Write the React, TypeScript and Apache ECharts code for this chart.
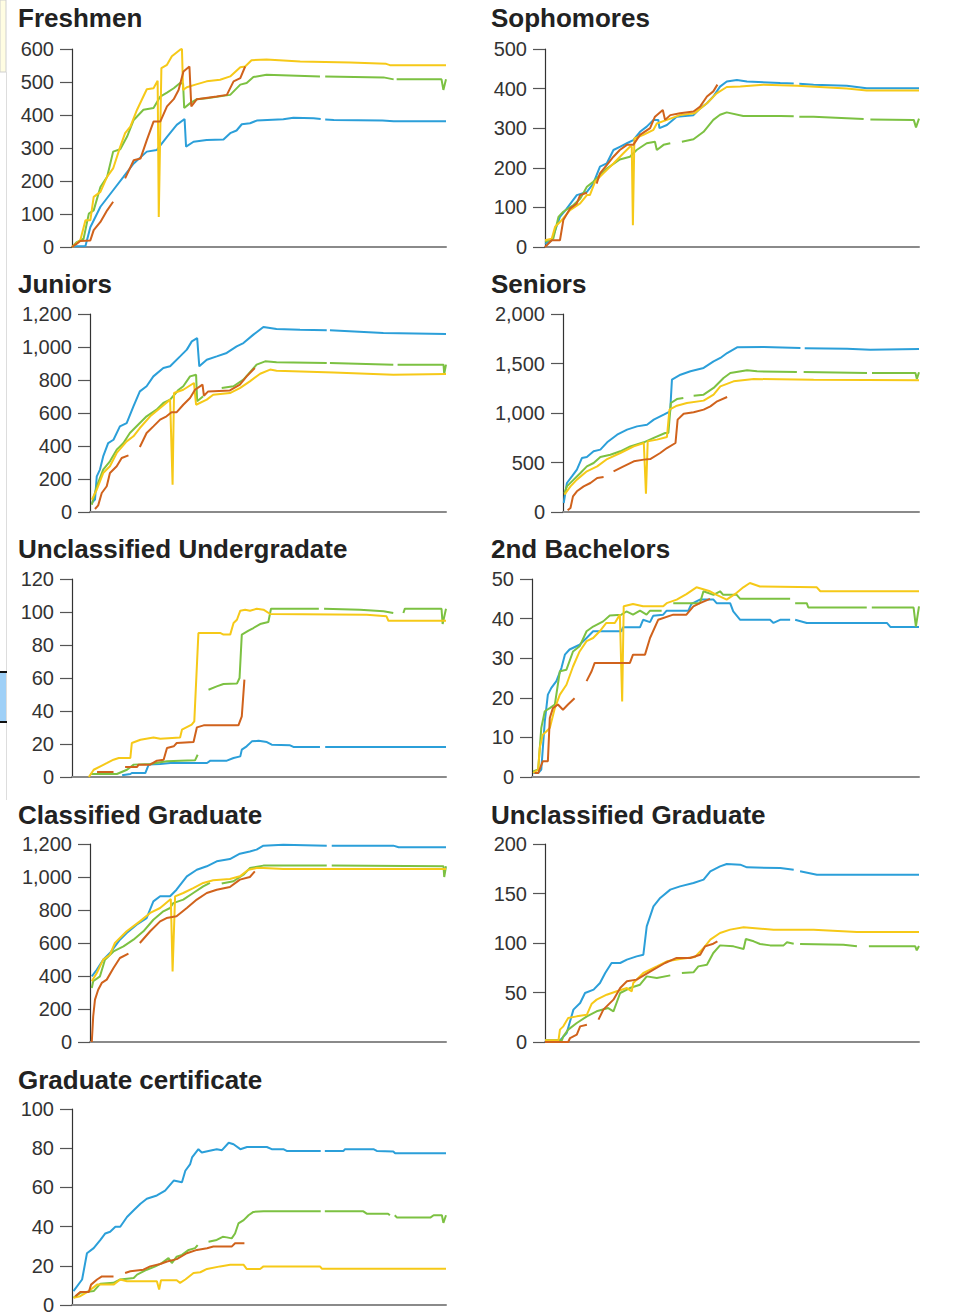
import React, { useEffect, useRef } from "react";
import * as echarts from "echarts";

// ---------- titles & axis ranges ----------
const titles = [
  "Freshmen",
  "Sophomores",
  "Juniors",
  "Seniors",
  "Unclassified Undergradate",
  "2nd Bachelors",
  "Classified Graduate",
  "Unclassified Graduate",
  "Graduate certificate",
];
const yMax = [600, 500, 1200, 2000, 120, 50, 1200, 200, 100];
const yStep = [100, 100, 200, 500, 20, 10, 200, 50, 20];

// ---------- data: [x (0-100 along the period), value] ; null = gap ----------
const FR_blue = [[0,2],[3.6,3],[4.9,60],[7.6,122],[11,172],[13.8,213],[16.5,253],[20,289],[22.7,294],[25.4,334],[28,370],[30.1,388],[30.5,304],[32.5,319],[36,324],[40.5,326],[42.3,345],[44,353],[45.4,372],[47.6,375],[49.4,383],[56.5,387],[59.2,392],[64.6,390],[66.5,388],[67,null],[67.7,386],[70,385],[83,383],[86,381],[100,381]];
const FR_green = [[0,0],[1.3,15],[3.1,25],[4.5,101],[5.8,111],[7.6,182],[9.4,213],[11,289],[12.9,296],[14.7,334],[16.5,385],[19.1,416],[21.8,421],[23.6,456],[25.4,468],[27.2,481],[28.9,497],[29.7,495],[30,421],[31.6,436],[33.4,448],[36,451],[42.3,461],[45,492],[46.7,497],[48.5,515],[52,522],[66.3,517],[67,null],[67.7,517],[83.3,514],[86,508],[86.4,null],[86.8,508],[98.8,508],[99.3,476],[100,508]];
const FR_yellow = [[0,0],[2.2,20],[3.6,81],[4.9,81],[5.8,152],[7.6,167],[9.4,213],[11,238],[12.9,304],[14.2,345],[15.6,365],[17.4,416],[20,478],[21.8,481],[22.9,504],[23.2,91],[23.9,542],[25.4,552],[26.7,578],[28.9,598],[29.4,600],[29.7,476],[30.7,484],[33,492],[36,502],[39.6,507],[42.3,517],[45,545],[46.3,547],[48,566],[52,568],[61,562],[74.4,559],[84,555],[85,551],[100,551]];
const FR_orange = [[0,0],[1.3,10],[2.2,18],[4.9,20],[5.8,51],[7.6,76],[9.4,111],[11,137],[12.5,null],[14.2,208],[16.5,263],[18.3,268],[20,324],[21.8,380],[23.6,380],[25.4,426],[27.2,448],[28.5,476],[29.8,532],[31.4,547],[31.9,426],[33.4,448],[38.7,456],[41.4,461],[43.2,502],[45,512],[46.3,547]];

const SO_blue = [[0,8],[1.8,17],[2.7,42],[4,76],[5.8,97],[8.5,131],[11.2,139],[12.9,160],[14.7,203],[16.5,211],[18.3,245],[20,253],[21.9,262],[23.6,270],[25.4,291],[27.2,304],[29,321],[30.3,321],[30.6,300],[32.6,308],[35.2,329],[39.7,333],[41.5,350],[43.3,363],[45,380],[46.8,405],[48.6,418],[51.3,422],[54,418],[62.9,414],[66.5,413],[67.2,null],[68,412],[71.8,410],[80.7,407],[86,401],[100,401]];
const SO_green = [[0,13],[2.2,21],[3.6,76],[4.9,89],[7.6,106],[9.4,122],[11.2,152],[12.9,165],[16.5,198],[20,221],[22.7,228],[24.5,245],[27.2,262],[29.4,266],[29.9,245],[31.7,258],[33.5,262],[34.5,null],[36.6,266],[39.7,272],[42.4,291],[45,321],[46.8,334],[48.6,340],[53,331],[62.9,331],[66.5,330],[67.2,null],[68,329],[71.8,329],[85.2,323],[86.2,null],[87,322],[98.6,321],[99.2,302],[100,324]];
const SO_yellow = [[0,17],[1.8,21],[2.7,51],[4,63],[6.7,93],[9.4,110],[11.2,131],[12,131],[13.4,165],[15.6,186],[18.3,211],[20.9,236],[22.7,253],[23.2,253],[23.5,55],[23.9,274],[26.3,283],[29,296],[29.9,312],[32.6,321],[36.1,333],[40,338],[43.3,363],[45.9,388],[48.6,404],[52.2,405],[58.4,410],[67.4,407],[80.7,400],[86,395],[100,395]];
const SO_orange = [[0,0],[1.8,17],[4,17],[4.9,68],[6.7,97],[8.5,110],[9.4,131],[11.2,137],[12.5,null],[13.8,160],[14.7,186],[16.5,207],[18.3,228],[20,245],[21.9,258],[23.6,258],[25.4,283],[28.1,300],[29.4,329],[31.5,346],[32.1,321],[33.5,333],[36.1,338],[39.7,342],[41.5,355],[43.3,380],[45,393],[46.1,410]];

const JU_blue = [[0.5,55],[1.4,75],[1.9,216],[2.8,257],[3.7,337],[5.1,418],[6.6,438],[8.4,519],[10.3,539],[12.2,640],[14,731],[15.9,762],[17.8,822],[20.6,873],[22.5,883],[25.3,943],[27.2,984],[28.6,1034],[30.1,1054],[30.7,883],[32.8,923],[35.6,943],[38.4,964],[41.2,1004],[43.1,1024],[45.9,1075],[48.7,1121],[52.4,1109],[59,1105],[66.5,1101],[67,null],[67.4,1101],[82.4,1085],[100,1079]];
const JU_green = [[0.5,44],[1.9,156],[3.7,257],[5.6,307],[7.5,378],[9.4,418],[11.2,479],[14,539],[15.9,580],[18.7,620],[20.6,661],[22.5,681],[24.9,741],[26.2,762],[28.1,822],[29.8,832],[30.1,671],[31.8,701],[34.5,null],[37,751],[40.3,762],[43.1,802],[46.8,893],[49.2,913],[52.4,907],[66.5,903],[67,null],[67.4,903],[85.2,893],[85.8,null],[86.4,893],[99.3,893],[99.5,838],[100,893]];
const JU_yellow = [[0.5,75],[1.9,135],[3.7,236],[5.6,277],[7.5,358],[10.3,428],[12.2,459],[14,509],[16.9,580],[19.7,630],[22.5,681],[23.2,166],[23.6,721],[26.2,741],[29.2,782],[29.8,650],[32.8,681],[34.6,711],[39.3,721],[42.1,751],[44.9,792],[47.8,838],[50.6,863],[52.4,856],[68.4,846],[85.2,832],[100,836]];
const JU_orange = [[1.4,18],[2.3,40],[3.3,115],[4.7,156],[5.6,236],[7.5,277],[8.9,327],[10.8,343],[12.5,null],[14,394],[15.9,479],[17.8,519],[19.7,560],[21.5,580],[22.9,604],[24.3,604],[26.2,650],[28.1,691],[29.5,741],[31.6,772],[32,705],[33.2,731],[39.3,737],[42.1,772],[44,822],[46.3,873]];

const SE_blue = [[0.2,91],[1.1,293],[2.5,360],[3.9,428],[5.3,545],[6.7,556],[8.6,613],[10.5,630],[12.4,704],[15.2,781],[18,832],[20.8,865],[23.6,882],[25.5,933],[28.3,983],[30.1,1017],[30.6,1337],[33,1387],[35.8,1421],[39.5,1455],[42.3,1522],[44.2,1556],[46.1,1606],[48.9,1663],[56.4,1667],[66.7,1657],[67.3,null],[67.9,1655],[79.8,1650],[86.3,1640],[100,1646]];
const SE_green = [[0.4,192],[1.1,259],[3,327],[4.9,394],[6.7,461],[8.6,495],[10.5,556],[13.3,579],[16.1,613],[18.9,663],[22.7,704],[25.5,748],[28.7,798],[29.6,798],[30.3,1101],[32,1141],[33.8,1152],[35.2,null],[36.7,1175],[39.5,1185],[42.3,1253],[45.1,1354],[47,1404],[51.7,1431],[54.5,1421],[65.7,1414],[66.7,null],[67.6,1413],[85.4,1404],[86.1,null],[86.8,1404],[99,1404],[99.4,1343],[100,1411]];
const SE_yellow = [[0.4,175],[2.1,259],[3.9,327],[6.7,411],[9.6,461],[12.4,535],[16.1,596],[19.9,663],[22.7,697],[23.3,185],[23.8,714],[26.4,731],[29.2,758],[29.9,1034],[32,1074],[34.8,1101],[39.5,1125],[42.3,1185],[44.2,1269],[47.9,1320],[53.6,1343],[70.4,1337],[100,1330]];
const SE_orange = [[1.3,17],[2.1,40],[2.8,158],[3.9,209],[5.8,259],[7.7,293],[9.6,343],[11.4,354],[12.8,null],[14.2,411],[17,461],[19.9,512],[22.7,529],[24.5,535],[27.3,596],[29.2,646],[31.6,697],[32.2,933],[33.9,993],[36.7,1007],[39.5,1034],[41.4,1067],[43.3,1118],[46.1,1162]];

const UU_blue = [[13.4,1],[15.6,1.8],[16,2.4],[19.6,2.4],[20.5,7.5],[23.6,7.9],[26.3,8.5],[36.1,8.5],[37,9.9],[41.4,9.9],[43.2,11.5],[45,12.5],[45.4,16.6],[46.7,18.6],[48.1,21.6],[49.9,22],[52.1,21.2],[53.4,19.6],[58.3,19.2],[59.2,18.2],[66.3,18.2],[67,null],[67.7,18.2],[100,18.2]];
const UU_green = [[4.9,1.8],[12,1.8],[14.7,4.4],[16.5,7.5],[20.9,7.9],[23.6,8.9],[25.4,9.5],[28.9,9.9],[32.9,10.1],[33.6,13.5],[35,null],[36.5,52.9],[38.7,54.9],[40.5,56.4],[44.1,56.6],[44.8,60],[45.4,86.3],[47.2,88.7],[48.5,90.3],[50.3,92.7],[52.5,93.9],[53.2,102],[66,102],[66.6,null],[67.4,102],[77,101.4],[83.3,100.4],[85.9,99.4],[87,null],[88.6,99.4],[89,102],[98.8,102],[99.1,92.7],[100,102]];
const UU_yellow = [[4.5,0],[5.8,4.4],[7.6,6.5],[9.4,8.5],[11.1,10.5],[12.5,11.5],[15.6,11.5],[16,20.6],[18.3,22.6],[21.8,24],[23.6,23.2],[28.9,24],[29.4,28.7],[32,31.7],[32.7,33.7],[33.8,87.3],[39.6,87.3],[40.5,86.3],[42.3,86.3],[43.2,93.3],[44.1,95.3],[45,100.8],[46.3,101.4],[47.6,100.8],[49.4,102],[51.2,101.4],[53,98.8],[78.8,98.4],[84.1,97.4],[84.6,94.7],[100,94.7]];
const UU_orange = [[6.7,3],[11.1,3],[12.5,null],[14.2,6.1],[17.4,6.1],[17.8,7.5],[20.9,7.5],[22.7,9.9],[24.5,10.5],[25.4,17.6],[27.2,18.6],[28,20.6],[32.5,21.2],[33.4,30.1],[35.2,31.3],[44.5,31.3],[45.4,36.8],[46.1,59]];

const BA_blue = [[0.3,1],[1.6,1],[2.4,1.9],[3.3,14],[4.1,20.8],[5,22.5],[6.3,24.2],[7.6,27.5],[8.5,30.9],[9.7,32.2],[12.3,33.4],[14.1,35.1],[15.8,36.8],[23.1,36.8],[23.5,37.8],[27.9,37.8],[28.7,39.7],[30.5,39.1],[31.3,40.7],[33.9,41],[34.8,42],[40.4,42],[41.2,43.7],[43.4,44.8],[46.9,44.8],[47.7,43.9],[51.2,43.9],[52,41.8],[53.8,39.7],[61.5,39.7],[62.4,38.9],[64.1,39.7],[66.7,39.7],[67.3,null],[68,39.7],[71,38.9],[91.7,38.9],[92.6,37.9],[100,37.9]];
const BA_green = [[0.3,1.4],[1.6,1.9],[2.4,12.4],[3.3,16.6],[4.6,17.4],[5.9,18.3],[7.2,26.7],[8.9,27.1],[10.6,31.7],[12.3,33],[14.1,36.8],[15.8,38],[18.4,39.3],[20.1,40.8],[23.1,41],[24.4,41.8],[26.1,41],[27.9,42],[29.6,41],[30.5,42],[33.5,42],[35,null],[36.5,43.9],[43.4,43.9],[44.3,46.9],[46.9,46],[48.6,46.9],[49.4,46],[52.9,46],[53.8,45],[66.7,45],[67.3,null],[68,43.9],[71,43.9],[71.4,42.8],[86.5,42.8],[87.1,null],[87.8,42.8],[98.6,42.8],[99.2,38],[100,43.1]];
const BA_yellow = [[0.3,1],[1.6,1.9],[2,7.3],[2.8,10.7],[3.7,11.5],[4.6,12.4],[5.9,17.4],[7.2,20.8],[8.9,23.3],[10.6,27.9],[12.3,31.7],[14.1,34.3],[15.8,35.1],[17.5,36.8],[19.2,38.9],[21.4,38.9],[22.7,41],[23.3,19.1],[23.7,43.1],[26.1,43.7],[28.7,43.1],[33.9,43.1],[34.8,43.9],[37.4,44.8],[39.9,46.2],[42.5,47.9],[46,46.9],[47.7,46],[50.3,44.8],[52.9,46.5],[54.6,47.9],[56.3,49],[58.9,48.1],[73.6,47.9],[74.5,46.9],[100,46.9]];
const BA_orange = [[0.7,1],[1.6,1],[2.8,4],[4.1,4],[4.6,14.9],[5.4,17.4],[6.7,18.3],[8,17],[9.3,18.3],[11,19.9],[12.5,null],[14.1,24.2],[15.4,26.7],[16.2,28.8],[25.3,28.8],[26.1,30.9],[29.2,30.9],[30.5,35.1],[32.6,39.7],[36.5,41],[39.9,41],[41.7,43.1],[43.4,43.9],[46,45]];

const CG_blue = [[0.5,398],[1.9,438],[3.7,499],[5.6,539],[8.4,620],[10.3,661],[13.1,711],[15.9,751],[17.8,852],[19.7,883],[22.5,883],[24.3,923],[27.2,1004],[30,1044],[32.8,1065],[35.6,1095],[39.3,1109],[42.1,1141],[44.9,1155],[46.8,1166],[48.7,1190],[54.3,1196],[66.5,1190],[67.2,null],[67.9,1190],[85.2,1190],[86.7,1180],[100,1180]];
const CG_green = [[0.5,327],[0.9,368],[2.8,398],[4.2,499],[6.6,549],[9.4,580],[12.2,620],[15,671],[17.8,741],[20.6,792],[22.5,812],[23.4,842],[26.2,863],[29,903],[31.8,943],[33.7,964],[35.3,null],[37,960],[40.3,974],[43.1,1014],[44.9,1054],[48.7,1069],[66.5,1069],[67.2,null],[67.9,1069],[99.3,1065],[99.5,1000],[100,1065]];
const CG_yellow = [[0.5,368],[1.9,418],[3.7,499],[5.6,529],[7,600],[10.3,671],[14,731],[16.9,782],[19.7,812],[22.7,867],[23.2,428],[23.9,883],[26.2,903],[29,933],[31.8,964],[34.6,980],[39.3,988],[42.1,1004],[44.5,1044],[46.8,1054],[48.7,1054],[54.3,1048],[100,1048]];
const CG_orange = [[0.5,0],[0.9,156],[1.4,257],[2.3,317],[3.3,358],[4.7,378],[6.6,448],[8.4,509],[10.8,535],[12.5,null],[14,600],[16.9,671],[19.7,731],[21.5,751],[24.3,762],[27.2,812],[30,863],[32.8,903],[35.6,923],[39.3,939],[42.1,984],[44.9,1000],[46.3,1034]];

const UG_blue = [[0,1.7],[4,1.7],[5.8,9],[7.6,32.7],[9.4,39.4],[10.7,49.5],[13,52.9],[14.7,59.6],[16.1,69.7],[17.8,79.8],[20.1,79.8],[21.9,83.2],[24.5,86.5],[26.3,88.2],[27.2,116.8],[29,137],[30.8,145.5],[33.5,153.9],[36.1,157.2],[39.7,160.6],[42.4,164],[44.2,172.4],[46.8,177.4],[48.6,179.8],[52.2,179.1],[54,176.4],[62.9,175.8],[66.5,174.1],[67.3,null],[68.2,172.4],[72.7,169],[100,169]];
const UG_green = [[0,1.7],[4.5,1.7],[4.9,5.7],[6.2,12.5],[8.5,19.2],[11.2,25.9],[13.8,31],[16.9,34.3],[18.3,31],[20.1,49.5],[22.7,54.5],[25.4,57.9],[27.2,66.3],[29.9,64.6],[33.5,67.3],[35,null],[36.6,69.7],[39.7,70.4],[41,76.4],[43.3,78.1],[45,89.9],[46.8,97.6],[50.4,96.6],[53.1,93.9],[53.7,104],[55.8,101.7],[57.5,99],[60.2,97.6],[63.8,97.6],[64.7,100.7],[66.5,99.3],[67.3,null],[68.2,99],[79.8,98.3],[83.4,96.6],[85,null],[86.6,96.6],[99,96.6],[99.4,92.6],[100,97]];
const UG_yellow = [[0,1.7],[3.6,1.7],[4,12.5],[4.9,15.8],[6.2,24.2],[8.5,25.9],[11.2,27.6],[12.5,38.7],[13.8,42.8],[16.5,47.8],[19.2,51.2],[21.9,54.5],[23.2,51.2],[23.6,59.6],[26.3,69.7],[29.9,76.4],[32.6,81.5],[36.1,83.8],[40.1,85.9],[42.4,94.9],[44.2,103.4],[46.8,110.1],[49.5,113.5],[53.1,115.8],[61.1,113.5],[71.8,113.5],[83.4,111.1],[100,111.1]];
const UG_orange = [[0,0],[6.2,0],[6.7,4],[8.5,7.4],[9.4,15.8],[11.2,17.5],[12.7,null],[14.3,22.6],[15.6,32.7],[18.3,42.8],[20.1,54.5],[21.9,61.3],[24.5,63],[26.3,67],[29,73.1],[32.1,79.8],[35.2,84.9],[38.8,84.9],[41.5,88.2],[42.8,96.6],[45,99.3],[46.1,101.7]];

const GC_blue = [[0.4,7.1],[2.7,13],[4,26.4],[5.8,29],[7.6,33.2],[8.9,36.5],[10.2,37.4],[11.6,39.9],[12.9,39.9],[14.7,44.9],[16.5,48.3],[18.3,51.7],[20,54.2],[22.7,55.9],[24.9,58.4],[27.2,63.5],[29.4,62.6],[30.3,68.5],[31.6,71.9],[32.1,75.3],[33.8,79.5],[34.7,77.8],[36.5,78.6],[38.7,79.5],[40.1,79],[41.9,82.8],[43.2,82],[45,79.5],[46.8,80.6],[52.1,80.6],[53.4,79.5],[56.5,79.5],[57.4,78.6],[66.5,78.6],[67,null],[67.6,78.6],[72.6,78.6],[73,79.5],[80.6,79.5],[81.5,78.6],[85.9,78.3],[86.4,77.4],[100,77.4]];
const GC_green = [[0.4,3.7],[2.2,6.2],[5.8,7.1],[7.6,10.9],[11.1,11.3],[12.9,13],[16.5,13.8],[17.4,15.5],[20,18],[22.3,19.7],[24,21.4],[25.8,23.9],[26.7,21.4],[28,24.7],[29.4,25.6],[31.2,28.1],[32.9,29],[33.6,30.6],[35,null],[36.5,32.3],[38.7,33.2],[40.3,34.8],[41.4,34.5],[42.7,34],[43.6,36.5],[44.5,41.6],[45.9,43.3],[47.2,45.8],[48.5,47.5],[51.2,47.8],[66.5,47.8],[67,null],[67.6,47.8],[77.9,47.8],[78.8,46.6],[84.5,46.6],[85,45.8],[85.6,null],[86.3,45.8],[86.9,44.6],[95.8,44.6],[96.7,45.8],[98.9,45.8],[99.3,41.9],[100,45.8]];
const GC_yellow = [[0.4,3.7],[2.2,4.5],[4.5,7.1],[6.7,10.4],[11.1,10.4],[12.9,13],[14.7,12.1],[22.7,12.1],[23.3,7.9],[23.8,12.6],[28,12.6],[28.9,11.3],[30.3,13],[32.5,16.3],[34.3,16.7],[36.1,18.4],[39.6,19.7],[42.3,20.5],[45.9,20.5],[46.7,18.4],[50.3,18.4],[51.2,19.7],[66.3,19.7],[66.8,18.5],[100,18.5]];
const GC_orange = [[0.9,4.5],[2.2,6.6],[4.5,6.6],[5.1,10.4],[6.7,13],[8,14.6],[11.1,14.6],[12.5,null],[14.2,16.3],[15.6,17.2],[19.1,18],[20.9,19.7],[23.6,20.9],[25.4,22.2],[28,23.4],[30.7,26.4],[33.4,28.1],[36.1,29],[37.8,29.8],[42.7,29.8],[43.6,31.5],[46.1,31.5]];

const panelData = [
  [FR_blue, FR_green, FR_yellow, FR_orange],
  [SO_blue, SO_green, SO_yellow, SO_orange],
  [JU_blue, JU_green, JU_yellow, JU_orange],
  [SE_blue, SE_green, SE_yellow, SE_orange],
  [UU_blue, UU_green, UU_yellow, UU_orange],
  [BA_blue, BA_green, BA_yellow, BA_orange],
  [CG_blue, CG_green, CG_yellow, CG_orange],
  [UG_blue, UG_green, UG_yellow, UG_orange],
  [GC_blue, GC_green, GC_yellow, GC_orange],
];

// ---------- styles & layout ----------
const lineColors = ["#2b9fd9", "#7cc142", "#f6c918", "#d0621c"];
const FONT = "'Liberation Sans', Arial, Helvetica, sans-serif";
// [left, top, width, height] of each plot area
const plotBoxes = [
  [72, 49, 374, 198],
  [545, 49, 374, 198],
  [90, 314, 356, 198],
  [563, 314, 356, 198],
  [72, 579, 374, 198],
  [532, 579, 387, 198],
  [90, 844, 356, 198],
  [545, 844, 374, 198],
  [72, 1109, 374, 198],
];

export default function App() {
  const ref = useRef<HTMLDivElement>(null);
  useEffect(() => {
    if (!ref.current) return;
    const chart = echarts.init(ref.current, null, { renderer: "svg" });
    const grid: any[] = [];
    const xAxis: any[] = [];
    const yAxis: any[] = [];
    const series: any[] = [];
    const title: any[] = [];
    plotBoxes.forEach((b, i) => {
      grid.push({ left: b[0], top: b[1], width: b[2], height: b[3], containLabel: false });
      xAxis.push({
        type: "value",
        gridIndex: i,
        min: 0,
        max: 100,
        axisLine: { show: true, lineStyle: { color: "#8a8a8a", width: 2 } },
        axisTick: { show: false },
        axisLabel: { show: false },
        splitLine: { show: false },
      });
      yAxis.push({
        type: "value",
        gridIndex: i,
        min: 0,
        max: yMax[i],
        interval: yStep[i],
        axisLine: { show: true, onZero: false, lineStyle: { color: "#333", width: 1.2 } },
        axisTick: { show: true, length: 12, lineStyle: { color: "#555", width: 1.2 } },
        axisLabel: {
          show: true,
          margin: 18,
          fontSize: 20,
          color: "#333",
          fontFamily: FONT,
          formatter: (v: number) => v.toLocaleString("en-US"),
        },
        splitLine: { show: false },
      });
      const col = i % 2;
      const row = Math.floor(i / 2);
      title.push({
        text: titles[i],
        left: col === 0 ? 18 : 491,
        top: 5 + row * 265.5,
        padding: 0,
        textStyle: { fontSize: 26, fontWeight: "bold", color: "#222", fontFamily: FONT },
      });
      panelData[i].forEach((d, k) => {
        series.push({
          type: "line",
          xAxisIndex: i,
          yAxisIndex: i,
          data: d,
          showSymbol: false,
          symbol: "none",
          connectNulls: false,
          lineStyle: { color: lineColors[k], width: 2 },
          itemStyle: { color: lineColors[k] },
          silent: true,
        });
      });
    });
    chart.setOption({
      animation: false,
      backgroundColor: "#ffffff",
      title,
      grid,
      xAxis,
      yAxis,
      series,
      graphic: [
        { type: "rect", shape: { x: 0, y: 0, width: 6, height: 72 }, style: { fill: "#fffde2", stroke: "#cfcfcf", lineWidth: 1 } },
        { type: "line", shape: { x1: 6.5, y1: 72, x2: 6.5, y2: 800 }, style: { stroke: "#dddddd", lineWidth: 1 } },
        { type: "rect", shape: { x: 0, y: 672, width: 6, height: 50 }, style: { fill: "#9fd0f7", stroke: null } },
        { type: "line", shape: { x1: 0, y1: 672, x2: 7, y2: 672 }, style: { stroke: "#111", lineWidth: 2 } },
        { type: "line", shape: { x1: 0, y1: 722, x2: 7, y2: 722 }, style: { stroke: "#111", lineWidth: 2 } },
      ],
    });
    return () => chart.dispose();
  }, []);
  return (
    <div
      ref={ref}
      style={{ position: "absolute", left: 0, top: 0, width: 967, height: 1315, background: "#fff" }}
    />
  );
}
